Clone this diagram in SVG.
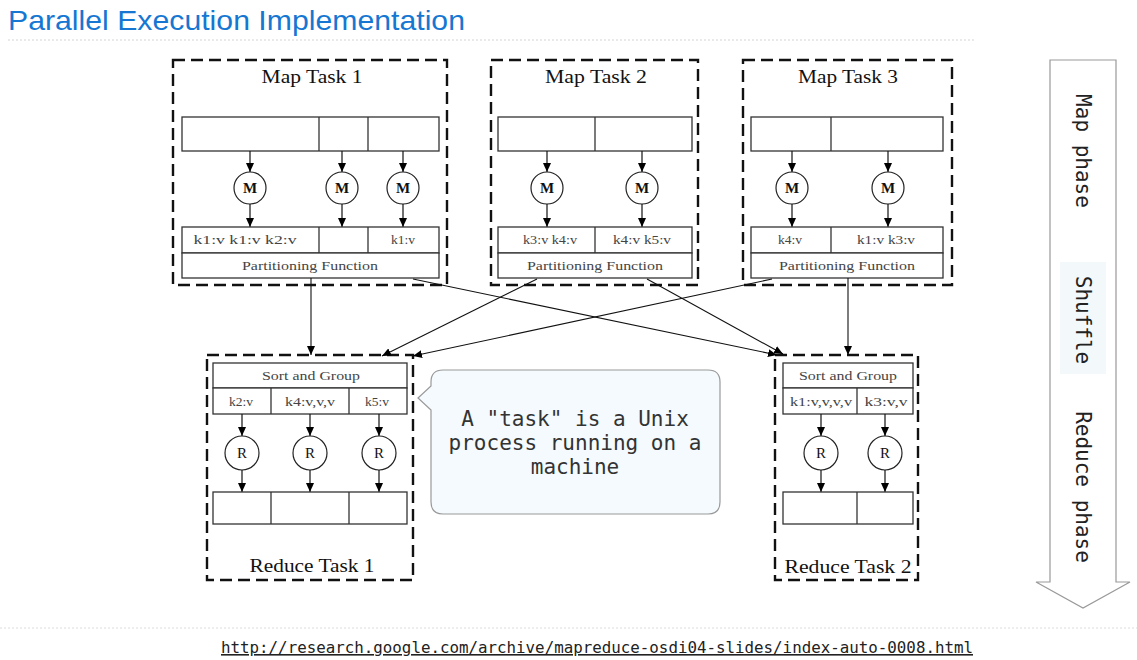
<svg xmlns="http://www.w3.org/2000/svg" width="1137" height="660" viewBox="0 0 1137 660">
<defs>
<marker id="ah" markerUnits="userSpaceOnUse" markerWidth="10" markerHeight="8" refX="9" refY="4" orient="auto">
<path d="M0,0 L9,4 L0,8 Z" fill="#000"/>
</marker>
<style>
.dash{fill:none;stroke:#111;stroke-width:2.4;stroke-dasharray:12 6}
.cell{fill:#fff;stroke:#333;stroke-width:1.3}
.div{stroke:#333;stroke-width:1.3}
.circ{fill:#fff;stroke:#222;stroke-width:1.2}
.arr{stroke:#111;stroke-width:1.2;fill:none;marker-end:url(#ah)}
.con{stroke:#111;stroke-width:1.1;fill:none;marker-end:url(#ah)}
.ttl{font-family:"Liberation Serif","DejaVu Serif",serif;font-size:19px;fill:#111;text-anchor:middle}
.sm{font-family:"Liberation Serif","DejaVu Serif",serif;font-size:13.5px;fill:#444;text-anchor:middle}
.cl{font-family:"Liberation Serif","DejaVu Serif",serif;font-size:15px;fill:#111;text-anchor:middle;font-weight:bold}
.rl{font-family:"Liberation Serif","DejaVu Serif",serif;font-size:15px;fill:#111;text-anchor:middle}
.ph{font-family:"DejaVu Sans Mono","Liberation Mono",monospace;font-size:21px;fill:#222;text-anchor:middle;dominant-baseline:central}
</style>
</defs>
<rect width="1137" height="660" fill="#fff"/>

<g id="header">
<text x="8" y="30" font-family="Liberation Sans, Arial, sans-serif" font-size="28" fill="#1677d2" textLength="457" lengthAdjust="spacingAndGlyphs">Parallel Execution Implementation</text>
<line x1="8" y1="40" x2="975" y2="40" stroke="#d4d4d4" stroke-width="1" stroke-dasharray="2 2"/>
</g>

<g id="map1">
<rect class="dash" x="173" y="60" width="274" height="225"/>
<text class="ttl" x="312" y="83" textLength="101" lengthAdjust="spacingAndGlyphs">Map Task 1</text>
<rect class="cell" x="182" y="117" width="257" height="34"/>
<line class="div" x1="319" y1="117" x2="319" y2="151"/>
<line class="div" x1="368" y1="117" x2="368" y2="151"/>
<line class="arr" x1="250" y1="151" x2="250" y2="172"/>
<line class="arr" x1="342" y1="151" x2="342" y2="172"/>
<line class="arr" x1="403" y1="151" x2="403" y2="172"/>
<circle class="circ" cx="250" cy="188" r="16"/>
<circle class="circ" cx="342" cy="188" r="16"/>
<circle class="circ" cx="403" cy="188" r="16"/>
<text class="cl" x="250" y="193">M</text>
<text class="cl" x="342" y="193">M</text>
<text class="cl" x="403" y="193">M</text>
<line class="arr" x1="250" y1="204" x2="250" y2="227"/>
<line class="arr" x1="342" y1="204" x2="342" y2="227"/>
<line class="arr" x1="403" y1="204" x2="403" y2="227"/>
<rect class="cell" x="182" y="227" width="257" height="26"/>
<line class="div" x1="319" y1="227" x2="319" y2="253"/>
<line class="div" x1="368" y1="227" x2="368" y2="253"/>
<rect class="cell" x="182" y="253" width="257" height="25"/>
<text class="sm" x="245" y="244" textLength="103" lengthAdjust="spacingAndGlyphs">k1:v k1:v k2:v</text>
<text class="sm" x="403" y="244">k1:v</text>
<text class="sm" x="310" y="270" textLength="136" lengthAdjust="spacingAndGlyphs">Partitioning Function</text>
</g>

<g id="map2">
<rect class="dash" x="491" y="60" width="207" height="225"/>
<text class="ttl" x="596" y="83" textLength="102" lengthAdjust="spacingAndGlyphs">Map Task 2</text>
<rect class="cell" x="498" y="117" width="194" height="34"/>
<line class="div" x1="595" y1="117" x2="595" y2="151"/>
<line class="arr" x1="547" y1="151" x2="547" y2="172"/>
<line class="arr" x1="642" y1="151" x2="642" y2="172"/>
<circle class="circ" cx="547" cy="188" r="16"/>
<circle class="circ" cx="642" cy="188" r="16"/>
<text class="cl" x="547" y="193">M</text>
<text class="cl" x="642" y="193">M</text>
<line class="arr" x1="547" y1="204" x2="547" y2="227"/>
<line class="arr" x1="642" y1="204" x2="642" y2="227"/>
<rect class="cell" x="498" y="227" width="194" height="26"/>
<line class="div" x1="595" y1="227" x2="595" y2="253"/>
<rect class="cell" x="498" y="253" width="194" height="25"/>
<text class="sm" x="550" y="244" textLength="54" lengthAdjust="spacingAndGlyphs">k3:v k4:v</text>
<text class="sm" x="642" y="244" textLength="58" lengthAdjust="spacingAndGlyphs">k4:v k5:v</text>
<text class="sm" x="595" y="270" textLength="136" lengthAdjust="spacingAndGlyphs">Partitioning Function</text>
</g>

<g id="map3">
<rect class="dash" x="743" y="60" width="209" height="225"/>
<text class="ttl" x="848" y="83" textLength="100" lengthAdjust="spacingAndGlyphs">Map Task 3</text>
<rect class="cell" x="751" y="117" width="192" height="34"/>
<line class="div" x1="831" y1="117" x2="831" y2="151"/>
<line class="arr" x1="792" y1="151" x2="792" y2="172"/>
<line class="arr" x1="888" y1="151" x2="888" y2="172"/>
<circle class="circ" cx="792" cy="188" r="16"/>
<circle class="circ" cx="888" cy="188" r="16"/>
<text class="cl" x="792" y="193">M</text>
<text class="cl" x="888" y="193">M</text>
<line class="arr" x1="792" y1="204" x2="792" y2="227"/>
<line class="arr" x1="888" y1="204" x2="888" y2="227"/>
<rect class="cell" x="751" y="227" width="192" height="26"/>
<line class="div" x1="831" y1="227" x2="831" y2="253"/>
<rect class="cell" x="751" y="253" width="192" height="25"/>
<text class="sm" x="790" y="244">k4:v</text>
<text class="sm" x="886" y="244" textLength="58" lengthAdjust="spacingAndGlyphs">k1:v k3:v</text>
<text class="sm" x="847" y="270" textLength="136" lengthAdjust="spacingAndGlyphs">Partitioning Function</text>
</g>

<g id="reduce1">
<rect class="dash" x="207" y="355" width="206" height="225"/>
<rect class="cell" x="213" y="363" width="194" height="25"/>
<text class="sm" x="311" y="380" textLength="98" lengthAdjust="spacingAndGlyphs">Sort and Group</text>
<rect class="cell" x="213" y="388" width="194" height="26"/>
<line class="div" x1="271" y1="388" x2="271" y2="414"/>
<line class="div" x1="349" y1="388" x2="349" y2="414"/>
<text class="sm" x="241" y="406">k2:v</text>
<text class="sm" x="310" y="406" textLength="50" lengthAdjust="spacingAndGlyphs">k4:v,v,v</text>
<text class="sm" x="377" y="406">k5:v</text>
<line class="arr" x1="242" y1="414" x2="242" y2="436"/>
<line class="arr" x1="310" y1="414" x2="310" y2="436"/>
<line class="arr" x1="379" y1="414" x2="379" y2="436"/>
<circle class="circ" cx="242" cy="453" r="17"/>
<circle class="circ" cx="310" cy="453" r="17"/>
<circle class="circ" cx="379" cy="453" r="17"/>
<text class="rl" x="242" y="458">R</text>
<text class="rl" x="310" y="458">R</text>
<text class="rl" x="379" y="458">R</text>
<line class="arr" x1="242" y1="470" x2="242" y2="492"/>
<line class="arr" x1="310" y1="470" x2="310" y2="492"/>
<line class="arr" x1="379" y1="470" x2="379" y2="492"/>
<rect class="cell" x="213" y="492" width="194" height="32"/>
<line class="div" x1="271" y1="492" x2="271" y2="524"/>
<line class="div" x1="349" y1="492" x2="349" y2="524"/>
<text class="ttl" x="312" y="572" textLength="125" lengthAdjust="spacingAndGlyphs">Reduce Task 1</text>
</g>

<g id="reduce2">
<rect class="dash" x="775" y="355" width="143" height="225"/>
<rect class="cell" x="783" y="363" width="130" height="25"/>
<text class="sm" x="848" y="380" textLength="98" lengthAdjust="spacingAndGlyphs">Sort and Group</text>
<rect class="cell" x="783" y="388" width="130" height="26"/>
<line class="div" x1="857" y1="388" x2="857" y2="414"/>
<text class="sm" x="821" y="406" textLength="62" lengthAdjust="spacingAndGlyphs">k1:v,v,v,v</text>
<text class="sm" x="886" y="406" textLength="43" lengthAdjust="spacingAndGlyphs">k3:v,v</text>
<line class="arr" x1="821" y1="414" x2="821" y2="436"/>
<line class="arr" x1="885" y1="414" x2="885" y2="436"/>
<circle class="circ" cx="821" cy="453" r="17"/>
<circle class="circ" cx="885" cy="453" r="17"/>
<text class="rl" x="821" y="458">R</text>
<text class="rl" x="885" y="458">R</text>
<line class="arr" x1="821" y1="470" x2="821" y2="492"/>
<line class="arr" x1="885" y1="470" x2="885" y2="492"/>
<rect class="cell" x="783" y="492" width="130" height="32"/>
<line class="div" x1="857" y1="492" x2="857" y2="524"/>
<text class="ttl" x="848" y="573" textLength="127" lengthAdjust="spacingAndGlyphs">Reduce Task 2</text>
</g>

<g id="connectors">
<line class="con" x1="311" y1="278" x2="311" y2="355"/>
<line class="con" x1="413" y1="279" x2="777" y2="355"/>
<line class="con" x1="537" y1="279" x2="382" y2="356"/>
<line class="con" x1="647" y1="279" x2="783" y2="354"/>
<line class="con" x1="772" y1="279" x2="413" y2="356"/>
<line class="con" x1="848" y1="278" x2="848" y2="355"/>
</g>

<g id="callout">
<path d="M443,370 H708 Q720,370 720,382 V502 Q720,514 708,514 H443 Q431,514 431,502 V410 L418,398 L431,386 V382 Q431,370 443,370 Z" fill="#f4fafd" stroke="#999" stroke-width="1.2"/>
<g font-family="DejaVu Sans Mono, Liberation Mono, monospace" font-size="21" fill="#333" text-anchor="middle">
<text x="575" y="426">A "task" is a Unix</text>
<text x="575" y="450">process running on a</text>
<text x="575" y="474">machine</text>
</g>
</g>

<g id="phases">
<path d="M1050,60 H1116 V582 H1130 L1083,608 L1036,582 H1050 Z" fill="#fff" stroke="#999" stroke-width="1.2"/>
<rect x="1060" y="262" width="46" height="112" fill="#f3f8fb"/>
<text class="ph" transform="translate(1083,151) rotate(90)">Map phase</text>
<text class="ph" transform="translate(1083,320) rotate(90)">Shuffle</text>
<text class="ph" transform="translate(1083,487) rotate(90)">Reduce phase</text>
</g>

<g id="footer">
<line x1="0" y1="628" x2="1137" y2="628" stroke="#dcdcdc" stroke-width="1" stroke-dasharray="2 2"/>
<text x="221" y="653" font-family="DejaVu Sans Mono, Liberation Mono, monospace" font-size="16" fill="#222" text-decoration="underline" textLength="752" lengthAdjust="spacingAndGlyphs">http://research.google.com/archive/mapreduce-osdi04-slides/index-auto-0008.html</text>
</g>
</svg>
